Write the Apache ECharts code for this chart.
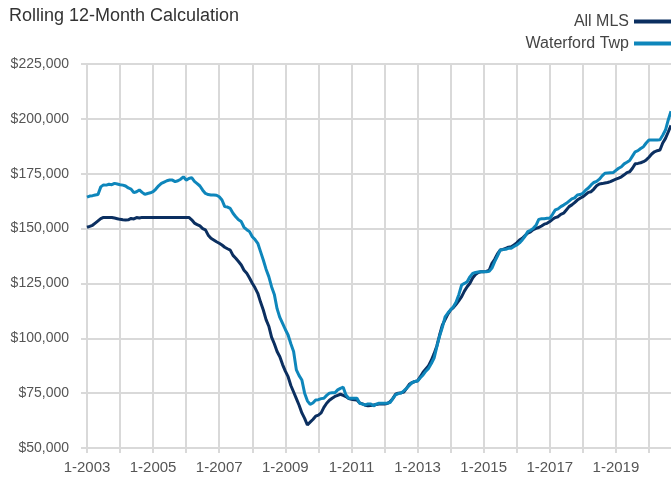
<!DOCTYPE html>
<html>
<head>
<meta charset="utf-8">
<script src="https://cdn.jsdelivr.net/npm/echarts@6/dist/echarts.min.js"></script>
<style>html,body{margin:0;padding:0;background:#fff;}#c{width:671px;height:478px;}</style>
</head>
<body>
<div id="c"></div>
<script>
const startYear = 2003;
const monthCount = 213; // Jan 2003 .. Sep 2020
const seriesNames = ['All MLS', 'Waterford Twp'];

const allMLS = [
  150600,151000,151500,152500,153500,154500,155100,155100,155100,155000,154800,154500,
  154200,154000,153900,154000,154600,154400,155000,154800,155100,155100,155100,155100,
  155100,155100,155100,155100,155100,155100,155100,155100,155100,155100,155100,155100,
  155100,155100,154000,152500,151800,151200,150000,149400,147000,145600,144800,144000,
  143300,142500,141500,140800,140200,137800,136500,135000,133400,131000,129600,127500,
  125100,123000,120500,116500,112900,108500,105500,100500,97500,94000,91600,88000,
  85000,82500,78500,75500,72500,69500,66000,63500,60500,61800,63000,64500,
  65000,66000,68500,70400,71800,72700,73500,74000,74500,74000,73400,72500,
  72200,72000,71900,70500,70100,69500,69200,69400,69600,69800,70000,70000,
  70100,70300,71100,72500,74500,75000,75200,75500,77200,79000,79800,80300,
  80600,82500,84500,86000,87500,90000,93000,96500,101500,106000,108500,111000,
  112900,114000,115500,117200,119000,121500,123500,125100,127500,129000,130000,130300,
  130300,130500,131000,134200,136000,138500,140200,140500,141000,141500,141700,142500,
  143500,144800,145600,146800,147900,148500,149500,150100,150500,151200,152000,152400,
  153200,154200,155000,155400,156500,157000,158500,160000,160800,161800,163000,163800,
  164500,165500,166500,166800,168000,169500,170300,170500,170800,171000,171400,172000,
  172500,173000,173600,174500,175500,175900,177500,179500,179700,180000,180500,181300,
  182500,184000,185000,185500,185800,189000,191100,194000,197000
];

const waterford = [
  164300,164800,165000,165300,165500,169000,169900,169800,170200,170000,170600,170300,
  170000,169800,169400,168500,168000,166400,166800,167600,166500,165600,166000,166300,
  166800,168000,169500,170600,171200,171800,172100,172100,171400,171800,172500,173600,
  172100,172800,173200,171500,170500,169400,167500,166000,165500,165300,165300,165200,
  164500,163000,160000,159800,159200,157000,155400,154000,153200,150600,149500,148600,
  146300,145000,143300,139500,135700,131500,128100,123500,120000,113500,109500,106800,
  104000,101500,97500,94000,85600,83000,81000,75000,71500,69900,70500,71900,
  72000,72500,72700,74000,75000,75200,75200,76500,77200,77700,74200,72700,
  72700,72700,72700,70400,70000,69600,70100,70100,69200,70000,70400,70400,
  70400,70400,70700,72500,74200,74800,75000,76000,77200,78500,79800,80300,
  80500,82000,83300,85000,86300,88500,91000,96200,101000,105000,109800,111500,
  113000,114400,116500,120000,124300,125000,125800,128000,129600,130000,130200,130300,
  130300,130300,130500,132000,134900,137500,140200,140400,140600,141000,141000,141800,
  142500,143500,144800,146500,148600,149200,150100,151500,154200,154500,154500,154700,
  154700,156500,158500,159000,160000,160700,161500,162500,163500,164000,165300,165500,
  166100,167500,168500,169900,171000,171500,172500,174000,175200,175300,175400,175500,
  176500,177500,178200,179500,180200,181000,183000,185000,185500,186500,187300,189000,
  190400,190400,190400,190400,190500,192500,194900,199500,203500
];

const yMin = 50000, yMax = 225000, yStep = 25000;

const categories = [];
for (let i = 0; i < monthCount; i++) {
  const m = (i % 12) + 1;
  const y = startYear + Math.floor(i / 12);
  categories.push(m + '-' + y);
}

const FONT = "'Liberation Sans Narrow', 'Arial Narrow', 'Liberation Sans', sans-serif";
const chart = echarts.init(document.getElementById('c'), null, {renderer: 'canvas'});
chart.setOption({
  animation: false,
  backgroundColor: '#fff',
  title: {
    text: 'Rolling 12-Month Calculation',
    left: 4, top: 2,
    textStyle: {fontFamily: FONT, fontSize: 18, fontWeight: 'normal', color: '#333'}
  },
  legend: {
    orient: 'vertical', right: -6, top: 8, align: 'right',
    itemWidth: 38, itemHeight: 4, itemGap: 5,
    icon: 'rect',
    textStyle: {fontFamily: FONT, fontSize: 16, color: '#444', lineHeight: 17}
  },
  grid: {left: 87, right: 0, top: 64, bottom: 30, containLabel: false},
  xAxis: {
    type: 'category',
    data: categories,
    boundaryGap: false,
    axisLine: {show: true, lineStyle: {color: '#d9d9d9', width: 2}},
    axisTick: {show: true, length: 5, interval: (i) => i % 12 === 0, lineStyle: {color: '#d9d9d9', width: 2}},
    axisLabel: {interval: (i) => i % 24 === 0, fontFamily: FONT, fontSize: 15, color: '#555', margin: 12},
    splitLine: {show: true, interval: (i) => i % 12 === 0, lineStyle: {color: '#d9d9d9', width: 2}}
  },
  yAxis: {
    type: 'value',
    min: yMin, max: yMax, interval: yStep,
    axisLine: {show: false},
    axisTick: {show: true, length: 6, lineStyle: {color: '#d9d9d9', width: 2}},
    axisLabel: {
      fontFamily: FONT, fontSize: 14, color: '#555', margin: 18,
      formatter: (v) => '$' + v.toLocaleString('en-US')
    },
    splitLine: {show: true, lineStyle: {color: '#d9d9d9', width: 2}}
  },
  series: [
    {name: seriesNames[0], type: 'line', data: allMLS, showSymbol: false, symbol: 'none',
     lineStyle: {width: 3, color: '#0b2f60'}, itemStyle: {color: '#0b2f60'}, z: 3},
    {name: seriesNames[1], type: 'line', data: waterford, showSymbol: false, symbol: 'none',
     lineStyle: {width: 3, color: '#0e86bb'}, itemStyle: {color: '#0e86bb'}, z: 4}
  ]
});
</script>
</body>
</html>
